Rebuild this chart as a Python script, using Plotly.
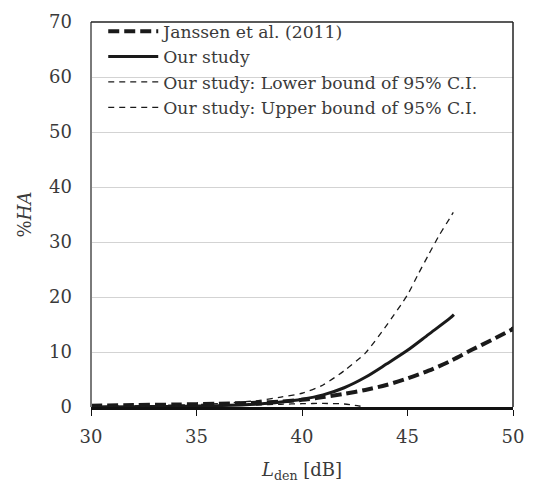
import plotly.graph_objects as go

# ---- data ----
janssen_x = [30, 32, 34, 36, 38, 39, 40, 41, 42, 43, 44, 45, 46, 47, 48, 49, 50]
janssen_y = [0.25, 0.35, 0.45, 0.6, 0.8, 1.0, 1.3, 1.8, 2.4, 3.1, 4.0, 5.2, 6.6, 8.3, 10.3, 12.2, 14.2]

study_x = [30, 32, 34, 36, 38, 39, 40, 41, 42, 43, 44, 45, 46, 47, 47.2]
study_y = [0.02, 0.05, 0.1, 0.25, 0.55, 0.9, 1.4, 2.2, 3.5, 5.4, 7.8, 10.3, 13.2, 16.1, 16.8]

lower_x = [30, 32, 34, 36, 38, 39, 40, 41, 42, 42.5, 43]
lower_y = [0.05, 0.1, 0.15, 0.25, 0.4, 0.5, 0.6, 0.65, 0.55, 0.3, 0.0]

upper_x = [30, 32, 34, 36, 38, 39, 40, 41, 42, 43, 44, 45, 45.5, 46, 46.5, 47, 47.17]
upper_y = [0.1, 0.2, 0.35, 0.6, 1.2, 1.8, 2.5, 4.0, 6.6, 9.8, 14.8, 20.4, 24.1, 27.7, 31.2, 34.3, 35.4]

names = ["Janssen et al. (2011)", "Our study",
         "Our study: Lower bound of 95% C.I.", "Our study: Upper bound of 95% C.I."]

FONT = "DejaVu Serif"
TXT = "#3a3a3a"
LC = "#1a1a1a"

fig = go.Figure()
fig.add_trace(go.Scatter(x=janssen_x, y=janssen_y, mode="lines", name=names[0],
                         line=dict(color=LC, width=4, dash="11px,5px", shape="spline", smoothing=0.8)))
fig.add_trace(go.Scatter(x=study_x, y=study_y, mode="lines", name=names[1],
                         line=dict(color=LC, width=3, shape="spline", smoothing=0.8)))
fig.add_trace(go.Scatter(x=lower_x, y=lower_y, mode="lines", name=names[2],
                         line=dict(color=LC, width=1.3, dash="6px,5px", shape="spline", smoothing=0.8)))
fig.add_trace(go.Scatter(x=upper_x, y=upper_y, mode="lines", name=names[3],
                         line=dict(color=LC, width=1.3, dash="6px,5px", shape="spline", smoothing=0.6)))
# end-point dot of the Janssen curve
fig.add_trace(go.Scatter(x=janssen_x[-1:], y=janssen_y[-1:], mode="markers", showlegend=False,
                         marker=dict(color=LC, size=5), hoverinfo="skip"))

fig.update_layout(
    width=535, height=493,
    margin=dict(l=91, r=21, t=11, b=86),
    paper_bgcolor="white", plot_bgcolor="white",
    font=dict(family=FONT, size=17, color=TXT),
    showlegend=True,
    legend=dict(x=0.029, y=1.022, xanchor="left", yanchor="top",
                bgcolor="rgba(0,0,0,0)", font=dict(family=FONT, size=17.2, color=TXT),
                itemwidth=50, tracegroupgap=0),
    xaxis=dict(range=[30, 50], dtick=5, tick0=30, showgrid=False, zeroline=False,
               showline=True, linecolor="#111111", linewidth=2.5,
               ticks="outside", ticklen=6, tickcolor="#111111", tickwidth=1,
               ticklabelstandoff=6,
               tickfont=dict(family=FONT, size=18, color=TXT),
               title=dict(text="<i>L</i><sub>den</sub> [dB]", standoff=18,
                          font=dict(family=FONT, size=18, color=TXT))),
    yaxis=dict(range=[0, 70], dtick=10, showgrid=True, gridcolor="#d3d3d3", gridwidth=1,
               zeroline=False, showline=False, ticks="",
               ticklabelstandoff=18,
               tickfont=dict(family=FONT, size=18, color=TXT),
               title=dict(text="%<i>HA</i>", standoff=12,
                          font=dict(family=FONT, size=18, color=TXT))),
)

# plot frame
fig.add_shape(type="line", xref="paper", yref="paper", x0=0, x1=0, y0=0, y1=1,
              line=dict(color="#7a7a7a", width=2))
fig.add_shape(type="line", xref="paper", yref="paper", x0=0, x1=1, y0=1, y1=1,
              line=dict(color="#222222", width=1.5))
fig.add_shape(type="line", xref="paper", yref="paper", x0=1, x1=1, y0=0, y1=1,
              line=dict(color="#222222", width=1.5))

fig.write_html("out.html")
